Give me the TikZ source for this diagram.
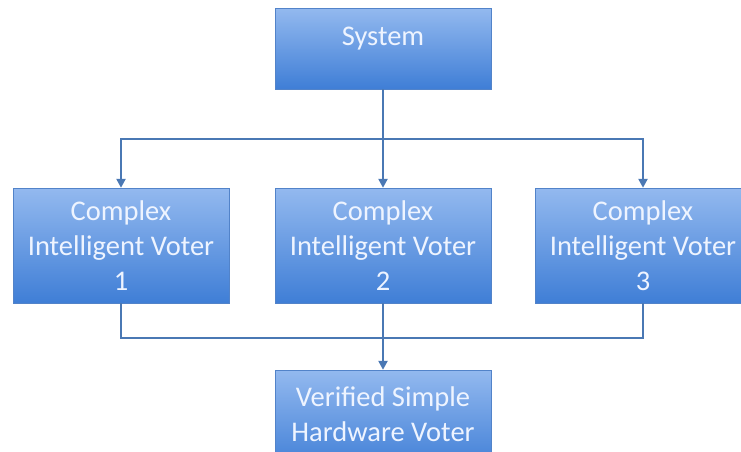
\documentclass[tikz,border=0pt]{standalone}
\usepackage{fontspec}
\setmainfont{Carlito}
\usetikzlibrary{arrows.meta}
\definecolor{boxtop}{HTML}{93B9EF}
\definecolor{boxbot}{HTML}{3F7ED6}
\definecolor{boxedge}{HTML}{5283C9}
\definecolor{wirecol}{HTML}{4A78B4}
\definecolor{boxtext}{HTML}{EEF4FF}
\begin{document}
\begin{tikzpicture}[x=1pt,y=1pt,
    box/.style={draw=boxedge, top color=boxtop, bottom color=boxbot,
      minimum width=216pt, inner sep=0pt, align=center, text=boxtext,
      font=\fontsize{28.5}{35}\selectfont},
    wire/.style={draw=wirecol, line width=2.8pt},
    tip/.style={-{Triangle[length=9pt,width=9pt]}}]
   \useasboundingbox (0,0) rectangle (741,-451);
   \clip (0,0) rectangle (741,-451);

   % top and middle row
   \node[box, minimum height=81pt, text depth=24pt] (sys) at (383,-48.5) {System};
   \node[box, minimum height=115pt] (cv1) at (121,-245.5) {Complex\\Intelligent Voter\\1};
   \node[box, minimum height=115pt] (cv2) at (383,-245.5) {Complex\\Intelligent Voter\\2};
   \node[box, minimum height=115pt] (cv3) at (643,-245.5) {Complex\\Intelligent Voter\\3};

   % the voter below
   \node[box, minimum height=100pt, text depth=12pt] (hv) at (383,-420) {Verified Simple\\Hardware Voter};

   \coordinate (split) at (383,-139);
   \coordinate (merge) at (383,-338);

   \draw[wire,tip] (sys) -- (cv2);
   \draw[wire,tip] (split) -| (cv1);
   \draw[wire,tip] (split) -| (cv3);
   \draw[wire] (cv1) |- (merge);
   \draw[wire] (cv3) |- (merge);
   \draw[wire,tip] (cv2) -- (hv);
\end{tikzpicture}
\end{document}
